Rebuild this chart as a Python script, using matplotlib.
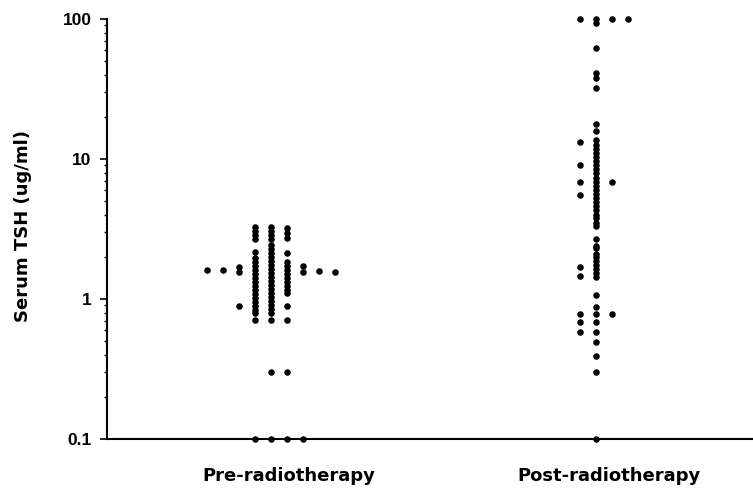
import numpy as np
import matplotlib
matplotlib.use("Agg")
import matplotlib.pyplot as plt
from matplotlib.ticker import LogLocator, NullFormatter, FixedLocator, FixedFormatter

plt.rcParams['font.family'] = ['Liberation Sans', 'DejaVu Sans']
plt.rcParams['font.weight'] = 'bold'

# Serum TSH values, listed per dot column (column offset from group centre)
groups = ['Pre-radiotherapy', 'Post-radiotherapy']

pre_columns = {
    -4: [1.61],
    -3: [1.61],
    -2: [1.69, 1.56, 0.89],
    -1: [3.27, 3.06, 2.86, 2.68, 2.17, 1.96, 1.84, 1.72, 1.61, 1.51, 1.41,
         1.32, 1.24, 1.16, 1.09, 1.02, 0.95, 0.89, 0.83, 0.79, 0.71, 0.1],
    0: [3.27, 3.06, 2.86, 2.68, 2.43, 2.27, 2.13, 1.99, 1.87, 1.75, 1.64,
        1.53, 1.44, 1.34, 1.26, 1.18, 1.10, 1.03, 0.97, 0.91, 0.85, 0.79,
        0.71, 0.30, 0.1],
    1: [3.2, 2.96, 2.73, 2.13, 1.84, 1.72, 1.61, 1.51, 1.41, 1.32, 1.24,
        1.16, 1.10, 0.89, 0.71, 0.30, 0.1],
    2: [1.72, 1.56, 0.1],
    3: [1.58],
    4: [1.56],
}

post_columns = {
    -1: [100, 13.3, 9.1, 6.9, 5.5, 1.68, 1.47, 0.78, 0.68, 0.58],
    0: [100, 93, 62, 41, 38, 32, 17.8, 15.9, 13.7, 12.6, 11.8, 11.0, 10.3,
        9.7, 9.1, 8.5, 7.9, 7.3, 6.9, 6.4, 6.0, 5.6, 5.3, 4.9, 4.6, 4.3,
        4.0, 3.8, 3.5, 3.3, 2.7, 2.4, 2.3, 2.1, 2.0, 1.87, 1.75, 1.64,
        1.53, 1.44, 1.07, 0.88, 0.78, 0.68, 0.58, 0.49, 0.39, 0.30, 0.1],
    1: [100, 6.8, 0.78],
    2: [100],
}

group_pos = [0.0, 1.0]
col_step = 16 / 325
label_shift = [0.055, 0.04]  # labels sit a little right of the dot columns

fig = plt.figure(figsize=(7.53, 4.9), dpi=100)
ax = fig.add_axes([107 / 753, 51 / 490, 646 / 753, 420 / 490])

for pos, cols in zip(group_pos, [pre_columns, post_columns]):
    for c, vals in cols.items():
        xs = np.full(len(vals), pos + c * col_step)
        ax.plot(xs, vals, 'o', color='black', ms=4.7, mew=0, clip_on=False)

ax.set_yscale('log')
ax.set_ylim(0.1, 100)
ax.set_xlim(-164 / 325, 1 + 157 / 325)

ax.yaxis.set_major_locator(FixedLocator([0.1, 1, 10, 100]))
ax.yaxis.set_major_formatter(FixedFormatter(['0.1', '1', '10', '100']))
ax.yaxis.set_minor_locator(LogLocator(base=10, subs=np.arange(2, 10)))
ax.yaxis.set_minor_formatter(NullFormatter())
ax.tick_params(axis='y', which='major', length=5, width=1.2, pad=6, labelsize=12.5)
ax.tick_params(axis='y', which='minor', length=2.5, width=1.0)

ax.set_xticks([p + s for p, s in zip(group_pos, label_shift)])
ax.set_xticklabels(groups, fontsize=13, family='DejaVu Sans', fontweight='bold')
ax.tick_params(axis='x', length=0, pad=20)

ax.set_ylabel('Serum TSH (ug/ml)', fontsize=13, family='DejaVu Sans', fontweight='bold')
ax.yaxis.set_label_coords(-0.116, 0.508)

for s in ['top', 'right']:
    ax.spines[s].set_visible(False)
ax.spines['left'].set_linewidth(1.5)
ax.spines['bottom'].set_linewidth(1.5)

fig.savefig('out.png', dpi=100)
